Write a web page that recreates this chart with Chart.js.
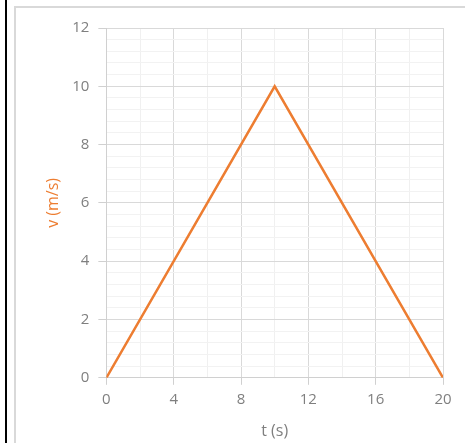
<!DOCTYPE html>
<html>
<head>
<meta charset="utf-8">
<script src="https://cdn.jsdelivr.net/npm/chart.js@4.4.0/dist/chart.umd.min.js"></script>
<style>
    body { margin: 0; background: #fff; }
    #wrap { position: relative; width: 465px; height: 443px; }
    #outer { position: absolute; left: 5px; top: 0; width: 2px; height: 443px; background: #000; }
    #frame { position: absolute; left: 14px; top: 6px; right: 0; bottom: 0; border-left: 2px solid #d9d9d9; border-top: 2px solid #d9d9d9; }
    canvas { position: absolute; left: 0; top: 0; }
</style>
</head>
<body>
<div id="wrap">
    <div id="outer"></div>
    <div id="frame"></div>
    <canvas id="vtChart" width="465" height="443"></canvas>
</div>
<script>
    // time (s) and velocity (m/s)
    const times = [0, 10, 20];
    const velocities = [0, 10, 0];
    const xTicks = [0, 4, 8, 12, 16, 20];
    const yTicks = [0, 2, 4, 6, 8, 10, 12];

    const isMajorX = v => xTicks.some(t => Math.abs(t - v) < 1e-6);
    const isMajorY = v => yTicks.some(t => Math.abs(t - v) < 1e-6);

    const points = times.map((t, i) => ({ x: t, y: velocities[i] }));

    const ctx = document.getElementById('vtChart').getContext('2d');
    new Chart(ctx, {
        type: 'line',
        data: {
            datasets: [{
                data: points,
                borderColor: '#ed7d31',
                borderWidth: 2.5,
                pointRadius: 0,
                tension: 0
            }]
        },
        options: {
            responsive: false,
            animation: false,
            layout: { padding: { left: 44, right: 22, top: 28, bottom: 2 } },
            plugins: {
                legend: { display: false },
                tooltip: { enabled: false }
            },
            scales: {
                x: {
                    type: 'linear',
                    min: 0,
                    max: 20,
                    border: { color: '#d0d0d0', width: 1 },
                    grid: {
                        color: c => isMajorX(c.tick.value) ? '#d9d9d9' : '#f0f0f0',
                        tickColor: c => isMajorX(c.tick.value) ? '#d0d0d0' : 'rgba(0,0,0,0)',
                        tickLength: 7
                    },
                    ticks: {
                        stepSize: 2,
                        autoSkip: false,
                        maxRotation: 0,
                        padding: 6,
                        color: '#7f7f7f',
                        font: { family: 'Open Sans', size: 15 },
                        callback: v => isMajorX(v) ? v : ''
                    },
                    title: {
                        display: true,
                        text: 't (s)',
                        color: '#7f7f7f',
                        font: { family: 'Open Sans', size: 16 },
                        padding: { top: 7, bottom: 0 }
                    }
                },
                y: {
                    min: 0,
                    max: 12,
                    border: { color: '#d0d0d0', width: 1 },
                    grid: {
                        color: c => isMajorY(c.tick.value) ? '#d9d9d9' : '#f2f2f2',
                        tickColor: c => isMajorY(c.tick.value) ? '#d0d0d0' : 'rgba(0,0,0,0)',
                        tickLength: 8
                    },
                    ticks: {
                        stepSize: 0.4,
                        autoSkip: false,
                        padding: 9,
                        color: '#7f7f7f',
                        font: { family: 'Open Sans', size: 15 },
                        callback: v => isMajorY(v) ? v : ''
                    },
                    title: {
                        display: true,
                        text: 'v (m/s)',
                        color: '#ed7d31',
                        font: { family: 'Open Sans', size: 16 },
                        padding: { top: 0, bottom: 0 }
                    }
                }
            }
        }
    });
</script>
</body>
</html>
